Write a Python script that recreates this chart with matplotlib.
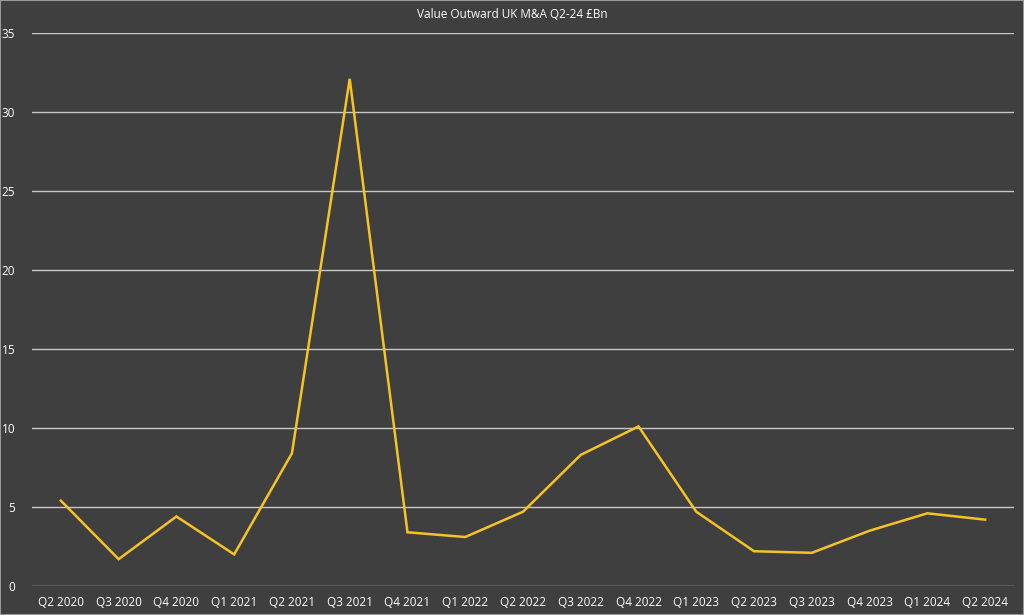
import matplotlib
matplotlib.use("Agg")
import matplotlib.pyplot as plt
from matplotlib.patches import Rectangle

categories = ["Q2 2020", "Q3 2020", "Q4 2020", "Q1 2021", "Q2 2021", "Q3 2021",
              "Q4 2021", "Q1 2022", "Q2 2022", "Q3 2022", "Q4 2022", "Q1 2023",
              "Q2 2023", "Q3 2023", "Q4 2023", "Q1 2024", "Q2 2024"]
values = [5.4, 1.7, 4.4, 2.0, 8.4, 32.1, 3.4, 3.1, 4.7, 8.3, 10.1, 4.7,
          2.2, 2.1, 3.5, 4.6, 4.2]
yticks = [0, 5, 10, 15, 20, 25, 30, 35]
title = "Value Outward UK M&A Q2-24 £Bn"

plt.rcParams['font.family'] = ['Open Sans', 'DejaVu Sans']
bg = "#3f3f3f"
fig = plt.figure(figsize=(10.24, 6.15), dpi=100, facecolor=bg)
ax = fig.add_axes([32/1024, 29/615, 982/1024, 553/615])
ax.set_facecolor(bg)

x = list(range(len(categories)))
ax.plot(x, values, color="#f6c325", linewidth=1.8, solid_joinstyle="miter")
ax.set_xlim(-0.5, len(categories) - 0.5)
ax.set_ylim(0, 35)
ax.set_yticks(yticks)
ax.set_xticks(x)
ax.set_xticklabels(categories)
ax.grid(axis="y", color="#c8c8c8", linewidth=1)
ax.set_axisbelow(True)
for s in ax.spines.values():
    s.set_visible(False)
ax.tick_params(axis="both", length=0, colors="white", labelsize=8.5)
ax.tick_params(axis="x", pad=7)
ax.tick_params(axis="y", pad=12)
fig.text(0.5, 1 - 14/615, title, ha="center", va="center", color="white", fontsize=8.5)
fig.patches.append(Rectangle((0, 0), 1, 1, transform=fig.transFigure, fill=False,
                             edgecolor="#9a9a9a", linewidth=1.5))
fig.savefig("out.png", dpi=100, facecolor=bg)
